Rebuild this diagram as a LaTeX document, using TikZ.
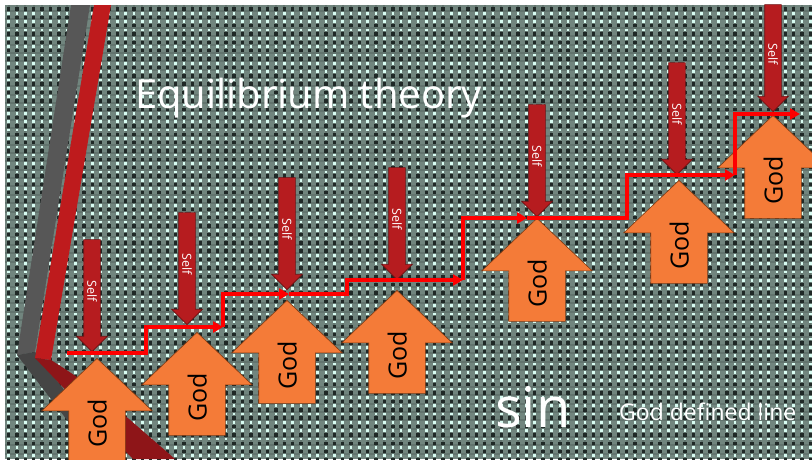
\documentclass[tikz,border=0pt]{standalone}
\usepackage{fontspec}
\setmainfont{Open Sans}
\usepackage{xcolor}
\definecolor{wallbg}{HTML}{71857E}
\definecolor{wallmid}{HTML}{62746E}
\definecolor{walldark}{HTML}{1F2826}
\definecolor{walllight}{HTML}{D8FCF2}
\definecolor{godfill}{HTML}{F47B38}
\definecolor{godbd}{HTML}{7F3A12}
\definecolor{selffill}{HTML}{B61C1F}
\definecolor{selfbd}{HTML}{6E1012}
\definecolor{stripegray}{HTML}{575757}
\definecolor{stripered}{HTML}{BE1B1D}
\definecolor{foldgray}{HTML}{454545}
\definecolor{foldred}{HTML}{8E1518}
\usepackage{tikz}
\usetikzlibrary{shapes.arrows, arrows.meta}

\begin{document}
\begin{tikzpicture}[
  x=1pt, y=-1pt,
  godarrow/.style={single arrow, draw=godbd, fill=godfill, line width=0.6pt,
    rotate=90, anchor=tip, minimum height=103pt, single arrow head extend=27pt,
    single arrow tip angle=93, inner xsep=0pt, inner ysep=18.5pt,
    text height=19pt, text depth=0pt, font=\fontsize{25}{30}\selectfont},
  selfarrow/.style={single arrow, draw=selfbd, fill=selffill, line width=0.6pt,
    rotate=-90, anchor=tip, minimum height=112pt, single arrow head extend=7pt,
    single arrow tip angle=90, inner xsep=0pt, inner ysep=3.25pt,
    text height=9.5pt, text depth=0pt, text=white, font=\fontsize{12.5}{15}\selectfont},
  stepline/.style={draw=red, line width=3.4pt, -{Triangle[length=10pt,width=11pt]}},
  caption/.style={text=white, anchor=base west, inner sep=0pt},
]
\useasboundingbox (0,0) rectangle (812,459);
\clip (0,0) rectangle (812,459);

% woven wall
\fill[white] (0,0) rectangle (812,459);
\fill[wallbg] (5,5) rectangle (812,459);
\foreach \c in {0,...,96} {
  \draw[wallmid, line width=2pt] ({8.7+8.35*\c},5) -- ({8.7+8.35*\c},459);
}
\foreach \r in {0,...,54} {
  \draw[wallmid, line width=2pt] (5,{11.1+8.35*\r}) -- (812,{11.1+8.35*\r});
  \draw[walldark, line width=3.4pt, dash pattern=on 3.4pt off 4.95pt]
    (7,{9+8.35*\r}) -- (812,{9+8.35*\r});
  \draw[walllight, line width=2.6pt, dash pattern=on 2.6pt off 5.75pt]
    (7.4,{13.2+8.35*\r}) -- (812,{13.2+8.35*\r});
}

% ribbons on the left
\fill[stripegray] (71,5) -- (90,5) -- (35,352) -- (17,355) -- cycle;
\fill[foldgray] (17,355) -- (35,352) -- (117,459) -- (97,459) -- cycle;
\fill[stripered] (94,5) -- (111,5) -- (51,360) -- (35,358) -- cycle;
\fill[foldred] (35,358) -- (51,360) .. controls (90,385) .. (175,459)
  -- (133,459) .. controls (80,405) .. (35,358) -- cycle;

% Self arrows
\node[selfarrow] (self1) at (92,352) {Self};
\node[selfarrow] (self2) at (187,325) {Self};
\node[selfarrow] (self3) at (287,290) {Self};
\node[selfarrow] (self4) at (397,280) {Self};
\node[selfarrow] (self5) at (537,217) {Self};
\node[selfarrow] (self6) at (677,175) {Self};
\node[selfarrow, minimum height=107pt] (self7) at (773,112) {Self};

% God arrows
\node[godarrow] (god1) at (97,358) {God};
\node[godarrow] (god2) at (197,332) {God};
\node[godarrow] (god3) at (287,300) {God};
\node[godarrow] (god4) at (397,290) {God};
\node[godarrow] (god5) at (537,218) {God};
\node[godarrow] (god6) at (679,180) {God};
\node[godarrow] (god7) at (773,115) {God};

% God defined line
\coordinate (p0) at (67,353);
\coordinate (p1) at (223,327);
\coordinate (p2) at (289,294);
\coordinate (p3) at (463,280);
\coordinate (p4) at (527,218);
\coordinate (p5) at (735,175);
\coordinate (p6) at (800,114);
\draw[stepline] (p0) -- ++(79,0) |- (p1);
\draw[stepline] (p1) |- (p2);
\draw[stepline] (p2) -- ++(58,0) |- (p3);
\draw[stepline] (p3) |- (p4);
\draw[stepline] (p4) -- ++(100,0) |- (p5);
\draw[stepline] (p5) |- (p6);

% captions
\node[caption, font=\fontsize{40}{48}\selectfont] (title) at (135,108) {Equilibrium theory};
\node[caption, font=\fontsize{56}{66}\selectfont] (sin) at (495,427) {sin};
\node[caption, font=\fontsize{23}{28}\selectfont] (godline) at (619,420) {God defined line};
\end{tikzpicture}
\end{document}
